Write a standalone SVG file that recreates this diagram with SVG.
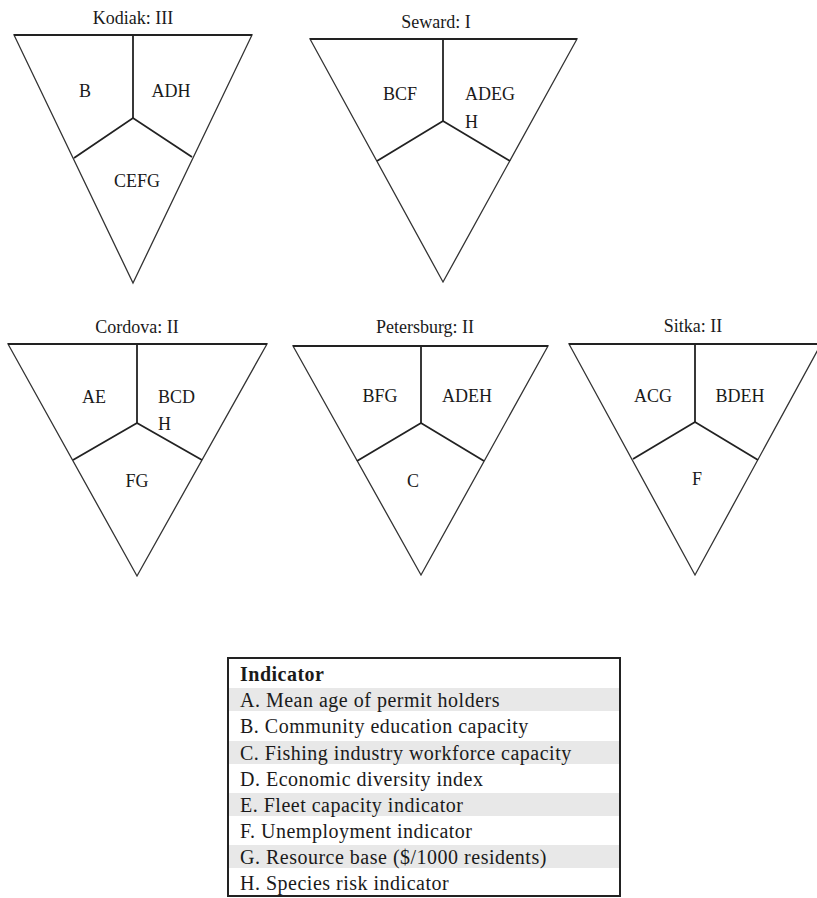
<svg xmlns="http://www.w3.org/2000/svg" width="817" height="898" viewBox="0 0 817 898">
<style>
.tri{fill:none;stroke:#333;stroke-width:1.3;stroke-linejoin:miter}
.div{fill:none;stroke:#222;stroke-width:1.8}
.top{stroke:#222;stroke-width:1.8}
.t{font-family:"Liberation Serif","DejaVu Serif",serif;font-size:18px;fill:#1a1a1a}
.ttl{font-family:"Liberation Serif","DejaVu Serif",serif;font-size:18px;fill:#1a1a1a;text-anchor:middle}
.m{text-anchor:middle}
.lg{font-family:"Liberation Serif","Times New Roman",serif;font-size:20px;letter-spacing:0.5px;fill:#1a1a1a}
.stripe{fill:#e8e8e8}
</style>
<rect width="817" height="898" fill="#fff"/>
<g id="kodiak">
<polygon class="tri" points="14,35 252,35 133,283"/>
<line class="top" x1="14" y1="35" x2="252" y2="35"/>
<polyline class="div" points="133,35 133,118"/>
<polyline class="div" points="74,158 133,118 192,157"/>
<text class="ttl" x="133" y="24">Kodiak: III</text>
<text class="t m" x="85" y="97">B</text>
<text class="t m" x="171" y="97">ADH</text>
<text class="t m" x="137" y="187">CEFG</text>
</g>
<g id="seward">
<polygon class="tri" points="310,39 577,39 443,282"/>
<line class="top" x1="310" y1="39" x2="577" y2="39"/>
<polyline class="div" points="443,39 443,121"/>
<polyline class="div" points="377,161 443,121 510,161"/>
<text class="ttl" x="436" y="28">Seward: I</text>
<text class="t m" x="400" y="100">BCF</text>
<text class="t" x="465" y="100">ADEG</text>
<text class="t" x="465" y="128">H</text>
</g>
<g id="cordova">
<polygon class="tri" points="8,344 267,344 137,576"/>
<line class="top" x1="8" y1="344" x2="267" y2="344"/>
<polyline class="div" points="137,344 137,423"/>
<polyline class="div" points="73,460 137,423 202,460"/>
<text class="ttl" x="137" y="333">Cordova: II</text>
<text class="t m" x="94" y="403">AE</text>
<text class="t" x="158" y="403">BCD</text>
<text class="t" x="158" y="430">H</text>
<text class="t m" x="137" y="487">FG</text>
</g>
<g id="petersburg">
<polygon class="tri" points="293,346 548,346 421,575"/>
<line class="top" x1="293" y1="346" x2="548" y2="346"/>
<polyline class="div" points="421,346 421,423"/>
<polyline class="div" points="357,461 421,423 484,461"/>
<text class="ttl" x="425" y="333">Petersburg: II</text>
<text class="t m" x="380" y="402">BFG</text>
<text class="t m" x="467" y="402">ADEH</text>
<text class="t m" x="413" y="487">C</text>
</g>
<g id="sitka">
<polygon class="tri" points="569,344 821,344 695,575"/>
<line class="top" x1="569" y1="344" x2="821" y2="344"/>
<polyline class="div" points="695,344 695,422"/>
<polyline class="div" points="633,459 695,422 758,460"/>
<text class="ttl" x="693" y="332">Sitka: II</text>
<text class="t m" x="653" y="402">ACG</text>
<text class="t m" x="740" y="402">BDEH</text>
<text class="t m" x="697" y="485">F</text>
</g>
<g id="connectors"></g>
<g id="legend">
<rect class="stripe" x="229" y="688" width="390" height="23"/>
<rect class="stripe" x="229" y="741" width="390" height="23"/>
<rect class="stripe" x="229" y="793" width="390" height="23"/>
<rect class="stripe" x="229" y="845" width="390" height="23"/>
<rect x="228" y="658" width="392" height="238" fill="none" stroke="#222" stroke-width="2"/>
<text class="lg" x="240" y="681" font-weight="bold" letter-spacing="0">Indicator</text>
<text class="lg" x="240" y="707">A. Mean age of permit holders</text>
<text class="lg" x="240" y="733">B. Community education capacity</text>
<text class="lg" x="240" y="760">C. Fishing industry workforce capacity</text>
<text class="lg" x="240" y="786">D. Economic diversity index</text>
<text class="lg" x="240" y="812">E. Fleet capacity indicator</text>
<text class="lg" x="240" y="838">F. Unemployment indicator</text>
<text class="lg" x="240" y="864">G. Resource base ($/1000 residents)</text>
<text class="lg" x="240" y="890">H. Species risk indicator</text>
</g>
</svg>
